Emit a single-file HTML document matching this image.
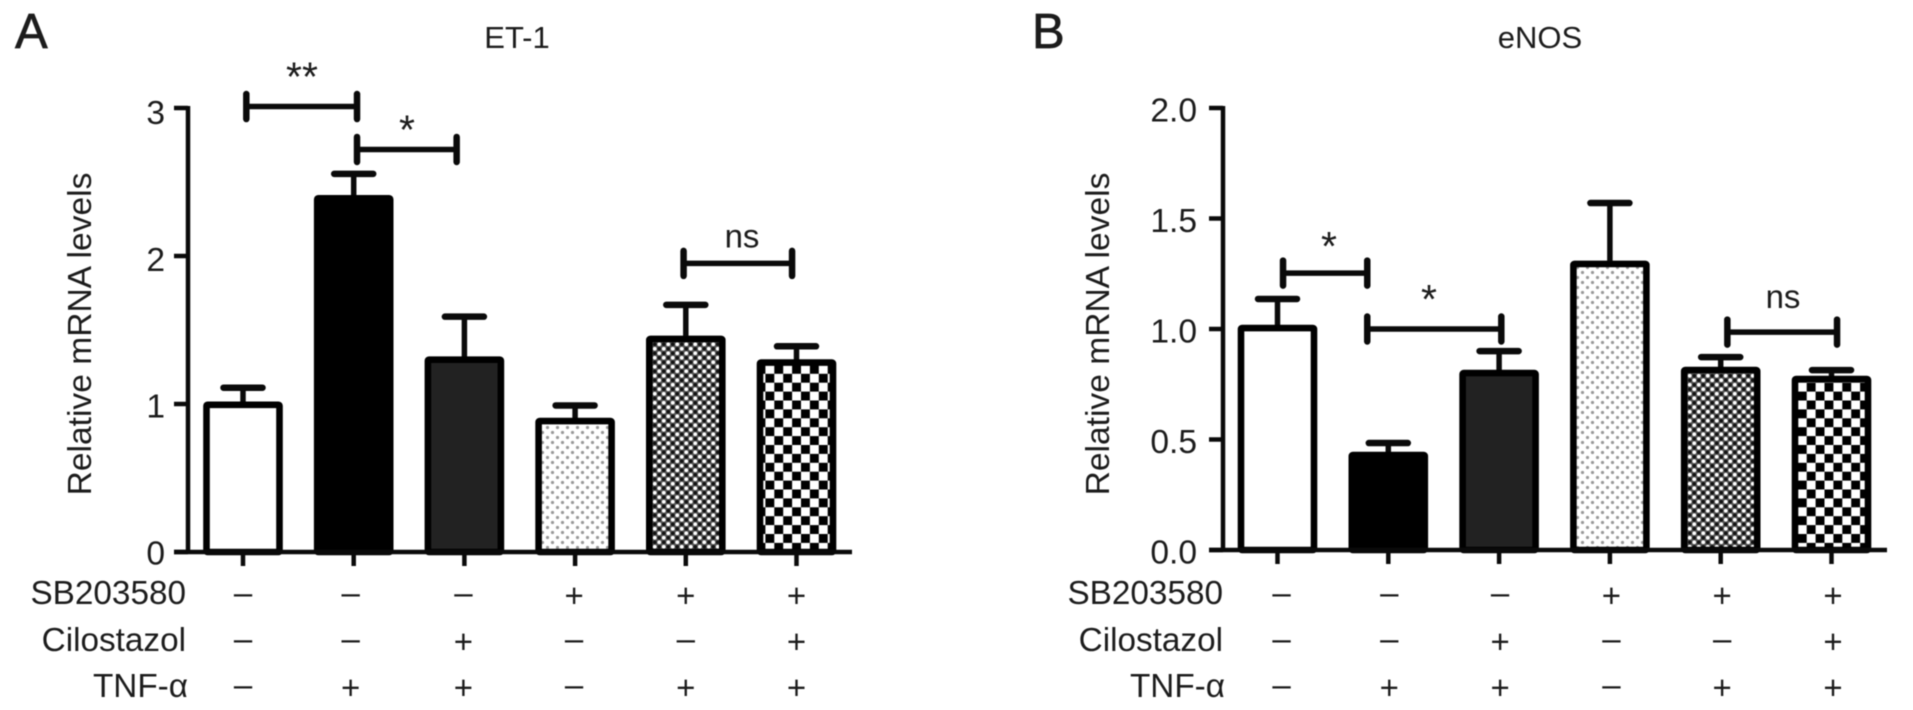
<!DOCTYPE html>
<html lang="en">
<head>
<meta charset="utf-8">
<title>ET-1 and eNOS relative mRNA levels</title>
<style>
html,body{margin:0;padding:0;background:#fff;width:1913px;height:710px;overflow:hidden}
svg{display:block;filter:blur(0.5px)}
text{font-family:"Liberation Sans",sans-serif;fill:#1c1c1c}
</style>
</head>
<body>
<svg id="figure" xmlns="http://www.w3.org/2000/svg" width="1913" height="710" viewBox="0 0 1913 710">
  <defs>
    <pattern id="pat-dots" patternUnits="userSpaceOnUse" width="10" height="10">
      <rect width="10" height="10" fill="#fff"/>
      <circle cx="2.5" cy="2.5" r="1.6" fill="#999"/>
      <circle cx="7.5" cy="7.5" r="1.6" fill="#999"/>
    </pattern>
    <pattern id="pat-dense" patternUnits="userSpaceOnUse" width="9" height="9">
      <rect width="9" height="9" fill="#555"/>
      <circle cx="2.25" cy="2.25" r="1.9" fill="#fff"/>
      <circle cx="6.75" cy="6.75" r="1.9" fill="#fff"/>
      <circle cx="6.75" cy="2.25" r="1.8" fill="#111"/>
      <circle cx="2.25" cy="6.75" r="1.8" fill="#111"/>
    </pattern>
    <pattern id="pat-checker" patternUnits="userSpaceOnUse" width="17.8" height="17.8">
      <rect width="17.8" height="17.8" fill="#fff"/>
      <rect x="0" y="0" width="8.9" height="8.9" fill="#000"/>
      <rect x="8.9" y="8.9" width="8.9" height="8.9" fill="#000"/>
    </pattern>
  </defs>

  <text x="15" y="48" font-size="49" stroke="#1c1c1c" stroke-width="0.7">A</text>
  <text x="1032" y="48" font-size="49" stroke="#1c1c1c" stroke-width="0.7">B</text>
  <text x="517" y="48" font-size="31" text-anchor="middle">ET-1</text>
  <text x="1540" y="48" font-size="31" text-anchor="middle">eNOS</text>

  <text font-size="33.6" text-anchor="middle" transform="translate(91 334) rotate(-90)">Relative mRNA levels</text>
  <text font-size="33.6" text-anchor="middle" transform="translate(1109 334) rotate(-90)">Relative mRNA levels</text>

  <text x="186" y="604" font-size="33.3" text-anchor="end">SB203580</text>
  <text x="186" y="651" font-size="33.3" text-anchor="end">Cilostazol</text>
  <text x="188" y="697" font-size="33.3" text-anchor="end">TNF-α</text>
  <text x="1223" y="604" font-size="33.3" text-anchor="end">SB203580</text>
  <text x="1223" y="651" font-size="33.3" text-anchor="end">Cilostazol</text>
  <text x="1225" y="697" font-size="33.3" text-anchor="end">TNF-α</text>
</svg>

<script>
// ---- data ----
const categories = ['control', 'tnf', 'cilostazol-tnf', 'sb203580', 'sb203580-tnf', 'sb203580-cilostazol-tnf'];
const sb203580Row = ['–', '–', '–', '+', '+', '+'];
const cilostazolRow = ['–', '–', '+', '–', '–', '+'];
const tnfRow = ['–', '+', '+', '–', '+', '+'];

const et1Values = [1.015, 2.41, 1.32, 0.905, 1.46, 1.30];
const et1Errors = [0.095, 0.145, 0.27, 0.085, 0.21, 0.09];
const et1Ticks = [0, 1, 2, 3];
const et1TickLabels = ['0', '1', '2', '3'];
const et1BracketStart = [0.03, 1.03, 3.98];
const et1BracketEnd = [1.03, 1.93, 4.96];
const et1BracketLevel = [3.01, 2.72, 1.95];
const et1BracketText = ['**', '*', 'ns'];

const enosValues = [1.018, 0.443, 0.814, 1.308, 0.828, 0.787];
const enosErrors = [0.118, 0.041, 0.086, 0.262, 0.045, 0.027];
const enosTicks = [0, 0.5, 1, 1.5, 2];
const enosTickLabels = ['0.0', '0.5', '1.0', '1.5', '2.0'];
const enosBracketStart = [0.05, 0.81, 4.06];
const enosBracketEnd = [0.81, 2.02, 5.05];
const enosBracketLevel = [1.253, 1.0, 0.986];
const enosBracketText = ['*', '*', 'ns'];

// ---- drawing ----
const NS = 'http://www.w3.org/2000/svg';
const svg = document.getElementById('figure');
const barFills = ['#fff', '#000', '#222', 'url(#pat-dots)', 'url(#pat-dense)', 'url(#pat-checker)'];

function make(tag, attrs) {
  const el = document.createElementNS(NS, tag);
  for (const k in attrs) el.setAttribute(k, attrs[k]);
  svg.appendChild(el);
  return el;
}

function drawPanel(p) {
  const x = i => p.x0 + i * p.step;
  const y = v => p.zero - v * (p.zero - p.top) / p.max;
  const ink = '#0a0a0a';

  // bars + error bars (drawn first so the axis overlays the bar feet)
  p.values.forEach((v, i) => {
    const cx = x(i);
    const capY = y(v + p.errors[i]);
    const stem = make('line', {x1: cx, x2: cx, y1: capY, y2: y(v), stroke: ink, 'stroke-width': 5.5});
    
    
    const cap = make('line', {x1: cx - 19.5, x2: cx + 19.5, y1: capY, y2: capY, stroke: ink, 'stroke-width': 6.5, 'stroke-linecap': 'round'});
    
    
    const bar = make('rect', {x: cx - 36.5, y: y(v) + 3, width: 73, height: p.zero - y(v) - 3, fill: barFills[i], stroke: '#000', 'stroke-width': 6.6, rx: 1});
    
    
  });

  // axes
  const yAxis = make('line', {x1: p.axisX, x2: p.axisX, y1: p.top - 2, y2: p.zero + 2, stroke: ink, 'stroke-width': 4.5});
  
  
  const xAxis = make('line', {x1: p.axisX - 14, x2: p.axisEnd, y1: p.zero, y2: p.zero, stroke: ink, 'stroke-width': 4.5});
  
  

  p.ticks.forEach((t, i) => {
    const tick = make('line', {x1: p.axisX - 14, x2: p.axisX, y1: y(t), y2: y(t), stroke: ink, 'stroke-width': 4.5});
    
    
    const label = make('text', {x: p.labelX, y: y(t) + p.labelDy + t * p.labelSkew, 'font-size': 33.6, 'text-anchor': 'end'});
    label.textContent = p.tickLabels[i];
    
    
  });

  categories.forEach((c, i) => {
    const tick = make('line', {x1: x(i), x2: x(i), y1: p.zero, y2: p.zero + 14, stroke: ink, 'stroke-width': 4.5});
    
    
  });

  // treatment rows
  [[sb203580Row, 604, 'sb203580'], [cilostazolRow, 650, 'cilostazol'], [tnfRow, 696, 'tnf']].forEach(row => {
    row[0].forEach((sym, i) => {
      const t = make('text', {x: x(i) + p.symbolNudge[i], y: row[1] + (sym === '+' ? 3 : 0), 'font-size': 33, 'text-anchor': 'middle'});
      t.textContent = sym;
      
      
    });
  });

  // significance brackets
  p.bracketText.forEach((txt, i) => {
    const x1 = x(p.bracketStart[i]);
    const x2 = x(p.bracketEnd[i]);
    const by = y(p.bracketLevel[i]);
    const h = make('line', {x1: x1, x2: x2, y1: by, y2: by, stroke: ink, 'stroke-width': 5.5});
    
    
    [x1, x2].forEach((ex, j) => {
      const end = make('line', {x1: ex, x2: ex, y1: by - 12.5, y2: by + 12.5, stroke: ink, 'stroke-width': 6.5, 'stroke-linecap': 'round'});
      
      
    });
    const isStar = txt !== 'ns';
    const label = make('text', {
      x: p.textCenter[i],
      y: by + p.textDy[i],
      'font-size': isStar ? 41 : 33,
      'text-anchor': 'middle'
    });
    label.textContent = txt;
    
    
  });
}

drawPanel({
  id: 'et1', x0: 243, step: 110.7, zero: 552, top: 108, max: 3,
  axisX: 188, axisEnd: 852, labelX: 165, labelDy: 12.5, labelSkew: 1.2,
  values: et1Values, errors: et1Errors,
  ticks: et1Ticks, tickLabels: et1TickLabels,
  bracketStart: et1BracketStart, bracketEnd: et1BracketEnd,
  bracketLevel: et1BracketLevel, bracketText: et1BracketText,
  symbolNudge: [0, -3, -1, -1, 0, 0],
  textCenter: [302, 407, 742],
  textDy: [-16, -6, -16]
});

drawPanel({
  id: 'enos', x0: 1277.5, step: 110.8, zero: 550, top: 108, max: 2,
  axisX: 1223, axisEnd: 1887, labelX: 1197, labelDy: 13.5, labelSkew: 0,
  values: enosValues, errors: enosErrors,
  ticks: enosTicks, tickLabels: enosTickLabels,
  bracketStart: enosBracketStart, bracketEnd: enosBracketEnd,
  bracketLevel: enosBracketLevel, bracketText: enosBracketText,
  symbolNudge: [4, 1, 1, 1.5, 1.5, 1.5],
  textCenter: [1329, 1429, 1783],
  textDy: [-13, -16, -24]
});
</script>
</body>
</html>
